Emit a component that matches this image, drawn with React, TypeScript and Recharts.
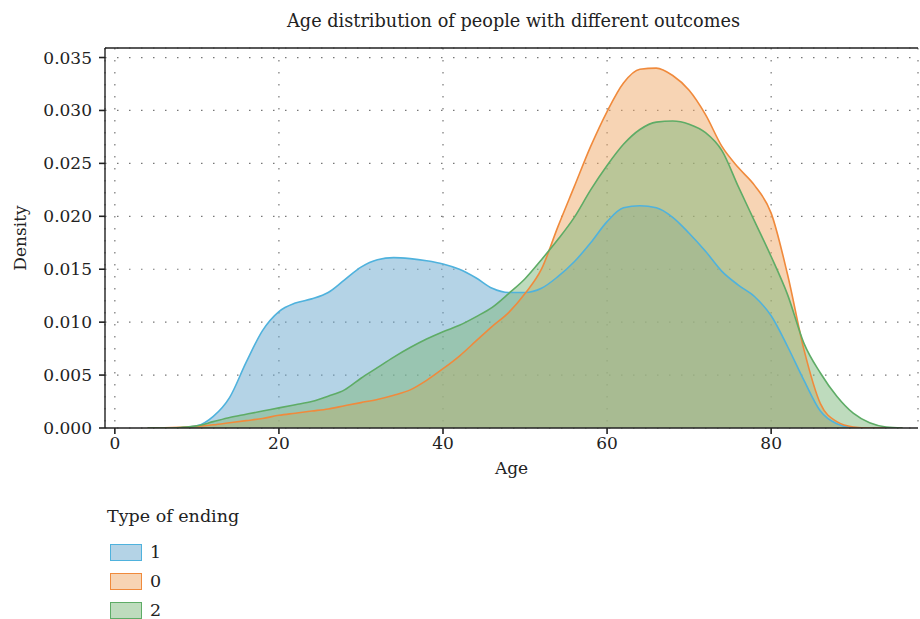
import { AreaChart, Area, XAxis, YAxis, CartesianGrid, Label, ReferenceLine } from 'recharts';

const ages = [
  4, 6, 8, 10, 12, 14, 16, 18, 20, 22,
  24, 26, 28, 30, 32, 34, 36, 38, 40, 42,
  44, 46, 48, 50, 52, 54, 56, 58, 60, 62,
  64, 66, 68, 70, 72, 74, 76, 78, 80, 82,
  84, 86, 88, 90, 92, 94, 96,
];

// type of ending "1"
const ending1 = [
  0, 0, 0.00002, 0.0002, 0.0011, 0.0029, 0.0062, 0.0092, 0.011, 0.0118,
  0.0122, 0.0128, 0.014, 0.0152, 0.0159, 0.0161, 0.016, 0.0158, 0.0155, 0.015,
  0.0142, 0.0132, 0.0128, 0.0128, 0.0132, 0.0143, 0.0157, 0.0175, 0.0195, 0.0208,
  0.021, 0.0208, 0.0199, 0.0184, 0.0167, 0.0148, 0.0135, 0.0124, 0.0106, 0.0077,
  0.0045, 0.0016, 0.0004, 0.00005, 0, 0, 0,
];

// type of ending "0"
const ending0 = [
  0, 0.00002, 0.00007, 0.00015, 0.0003, 0.0005, 0.0007, 0.0009, 0.0012, 0.0014,
  0.0016, 0.0018, 0.0021, 0.0024, 0.0027, 0.0031, 0.0036, 0.0045, 0.0056, 0.0068,
  0.0082, 0.0096, 0.0109, 0.0127, 0.015, 0.019, 0.0228, 0.0266, 0.0299, 0.0326,
  0.0339, 0.034, 0.0333, 0.0319, 0.0296, 0.0266, 0.0246, 0.0229, 0.0203, 0.0145,
  0.0074, 0.0023, 0.0006, 0.0001, 0, 0, 0,
];

// type of ending "2"
const ending2 = [
  0, 0, 0.00005, 0.0002, 0.0006, 0.001, 0.0013, 0.0016, 0.0019, 0.0022,
  0.0025, 0.003, 0.0036, 0.0047, 0.0057, 0.0067, 0.0076, 0.0084, 0.0091, 0.0097,
  0.0105, 0.0114, 0.0127, 0.0141, 0.0159, 0.0178, 0.0199, 0.0225, 0.0248, 0.0268,
  0.0282, 0.0289, 0.029, 0.0287, 0.0279, 0.0262, 0.0228, 0.0195, 0.0162, 0.0126,
  0.008, 0.0052, 0.003, 0.0014, 0.0005, 0.0001, 0,
];

const xTicks = [0, 20, 40, 60, 80];
const yTicks = [0, 0.005, 0.01, 0.015, 0.02, 0.025, 0.03, 0.035];
const legendTitle = 'Type of ending';
const title = 'Age distribution of people with different outcomes';

const FONT = '"DejaVu Serif", serif';
const INK = '#222';
const Y_TOP = 0.0359;

const series = [
  { key: 'd1', name: '1', line: '#4fb2dd', fill: '#69a7cd' },
  { key: 'd0', name: '0', line: '#f08a3c', fill: '#efa969' },
  { key: 'd2', name: '2', line: '#5eac66', fill: '#7db87b' },
];

const table = ages.map((age, i) => ({ age, d1: ending1[i], d0: ending0[i], d2: ending2[i] }));

const tickStyle = { fill: INK, fontSize: 17, fontFamily: FONT };

export default function App() {
  return (
    <div style={{ position: 'absolute', left: 0, top: 0, width: 920, height: 619, background: '#fff', fontFamily: FONT, color: INK }}>
      <div style={{ position: 'absolute', left: 107, width: 813, top: 11, textAlign: 'center', fontSize: 17.7 }}>{title}</div>

      <AreaChart width={920} height={619} data={table} margin={{ top: 48, right: 2, left: 15, bottom: 143 }}>
        <CartesianGrid stroke="#777" strokeWidth={1.2} strokeDasharray="1.5 10.5" />
        <XAxis
          dataKey="age"
          type="number"
          domain={[-1.2, 97.9]}
          ticks={xTicks}
          allowDataOverflow
          height={48}
          tickSize={6}
          tickMargin={3}
          tick={tickStyle}
          axisLine={{ stroke: INK, strokeWidth: 1.4 }}
          tickLine={{ stroke: INK, strokeWidth: 1.6 }}
        >
          <Label
            content={({ viewBox }: any) => (
              <text x={viewBox.x + viewBox.width / 2} y={viewBox.y + 40} textAnchor="middle" dominantBaseline="central" fill={INK} fontSize={17} fontFamily={FONT}>
                Age
              </text>
            )}
          />
        </XAxis>
        <YAxis
          type="number"
          domain={[0, Y_TOP]}
          ticks={yTicks}
          allowDataOverflow
          width={90}
          tickSize={6}
          tickMargin={7}
          tick={tickStyle}
          tickFormatter={(v: number) => v.toFixed(3)}
          axisLine={{ stroke: INK, strokeWidth: 1.4 }}
          tickLine={{ stroke: INK, strokeWidth: 1.6 }}
        >
          <Label
            content={({ viewBox }: any) => {
              const cx = viewBox.x + 5;
              const cy = viewBox.y + viewBox.height / 2;
              return (
                <text x={cx} y={cy} transform={`rotate(-90, ${cx}, ${cy})`} textAnchor="middle" dominantBaseline="central" fill={INK} fontSize={17} fontFamily={FONT}>
                  Density
                </text>
              );
            }}
          />
        </YAxis>
        {/* fills first */}
        {series.map((s) => (
          <Area
            key={`fill-${s.key}`}
            type="monotone"
            dataKey={s.key}
            name={s.name}
            stroke="none"
            fill={s.fill}
            fillOpacity={0.5}
            dot={false}
            activeDot={false}
            isAnimationActive={false}
          />
        ))}
        {/* outlines on top */}
        {series.map((s) => (
          <Area
            key={`line-${s.key}`}
            type="monotone"
            dataKey={s.key}
            name={s.name}
            stroke={s.line}
            strokeWidth={1.6}
            fill="none"
            dot={false}
            activeDot={false}
            isAnimationActive={false}
          />
        ))}
        {/* top spine */}
        <ReferenceLine y={Y_TOP} stroke={INK} strokeWidth={1.4} ifOverflow="visible" />
      </AreaChart>

      {/* legend */}
      <div style={{ position: 'absolute', left: 107, top: 506, fontSize: 17.5 }}>{legendTitle}</div>
      {series.map((s, i) => (
        <div key={s.key} style={{ position: 'absolute', left: 110, top: 542 + i * 29, display: 'flex', alignItems: 'center', fontSize: 17.5 }}>
          <span style={{ width: 30, height: 15, border: `1.5px solid ${s.line}`, background: s.fill, marginRight: 8, boxSizing: 'content-box' }}>
            <span style={{ display: 'block', width: '100%', height: '100%', background: '#fff', opacity: 0.5 }} />
          </span>
          <span>{s.name}</span>
        </div>
      ))}
    </div>
  );
}
